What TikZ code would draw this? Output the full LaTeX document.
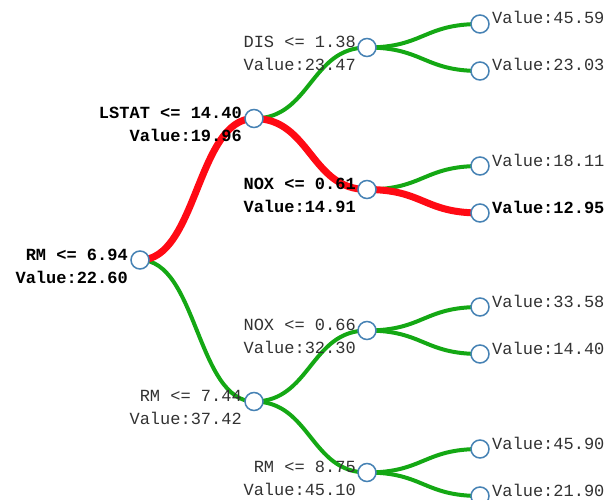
\documentclass[tikz,border=0pt]{standalone}
\usepackage{fontspec}
\setmonofont{Liberation Mono}
\usetikzlibrary{calc,backgrounds}
\definecolor{steel}{RGB}{70,130,180}
\definecolor{edgegreen}{RGB}{20,168,20}
\definecolor{edgered}{RGB}{255,10,20}
\definecolor{txt}{RGB}{50,50,50}
\tikzset{
  tnode/.style={circle, draw=steel, fill=white, line width=1.5pt, minimum size=18pt, inner sep=0pt},
  lbl/.style={font=\ttfamily\fontsize{17}{20}\selectfont, inner sep=0pt, text=txt},
  blbl/.style={font=\ttfamily\bfseries\fontsize{17}{20}\selectfont, inner sep=0pt, text=black},
  gedge/.style={draw=edgegreen, line width=4pt},
  redge/.style={draw=edgered, line width=7pt},
}
\newcommand{\diag}[3]{\draw[#1] let \p1=(#2), \p2=(#3) in (#2) .. controls ({(\x1+\x2)/2},\y1) and ({(\x1+\x2)/2},\y2) .. (#3);}
\begin{document}
\begin{tikzpicture}[x=1pt,y=-1pt]
\useasboundingbox (0,0) rectangle (607,500);
% nodes
\node[tnode] (r) at (140,260) {};
\node[tnode] (a) at (254,118.5) {};
\node[tnode] (b) at (254,401.5) {};
\node[tnode] (aa) at (367,47.5) {};
\node[tnode] (ab) at (367,189.5) {};
\node[tnode] (ba) at (367,330.5) {};
\node[tnode] (bb) at (367,472.5) {};
\node[tnode] (l1) at (480,24) {};
\node[tnode] (l2) at (480,71) {};
\node[tnode] (l3) at (480,166) {};
\node[tnode] (l4) at (480,213) {};
\node[tnode] (l5) at (480,307) {};
\node[tnode] (l6) at (480,354) {};
\node[tnode] (l7) at (480,449) {};
\node[tnode] (l8) at (480,496) {};
% edges
\begin{pgfonlayer}{background}
\diag{gedge}{r.center}{b.center}
\diag{gedge}{a.center}{aa.center}
\diag{gedge}{aa.center}{l1.center}
\diag{gedge}{aa.center}{l2.center}
\diag{gedge}{ab.center}{l3.center}
\diag{gedge}{b.center}{ba.center}
\diag{gedge}{b.center}{bb.center}
\diag{gedge}{ba.center}{l5.center}
\diag{gedge}{ba.center}{l6.center}
\diag{gedge}{bb.center}{l7.center}
\diag{gedge}{bb.center}{l8.center}
\diag{redge}{r.center}{a.center}
\diag{redge}{a.center}{ab.center}
\diag{redge}{ab.center}{l4.center}
\end{pgfonlayer}
% labels
\node[blbl, anchor=base east] (tr1) at ([xshift=-12pt]r.center) {RM <= 6.94};
\node[blbl, anchor=base east] (tr2) at ([xshift=-12pt,yshift=-23pt]r.center) {Value:22.60};
\node[blbl, anchor=base east] (ta1) at ([xshift=-12pt]a.center) {LSTAT <= 14.40};
\node[blbl, anchor=base east] (ta2) at ([xshift=-12pt,yshift=-23pt]a.center) {Value:19.96};
\node[lbl, anchor=base east] (tb1) at ([xshift=-12pt]b.center) {RM <= 7.44};
\node[lbl, anchor=base east] (tb2) at ([xshift=-12pt,yshift=-23pt]b.center) {Value:37.42};
\node[lbl, anchor=base east] (taa1) at ([xshift=-11pt]aa.center) {DIS <= 1.38};
\node[lbl, anchor=base east] (taa2) at ([xshift=-11pt,yshift=-23pt]aa.center) {Value:23.47};
\node[blbl, anchor=base east] (tab1) at ([xshift=-11pt]ab.center) {NOX <= 0.61};
\node[blbl, anchor=base east] (tab2) at ([xshift=-11pt,yshift=-23pt]ab.center) {Value:14.91};
\node[lbl, anchor=base east] (tba1) at ([xshift=-11pt]ba.center) {NOX <= 0.66};
\node[lbl, anchor=base east] (tba2) at ([xshift=-11pt,yshift=-23pt]ba.center) {Value:32.30};
\node[lbl, anchor=base east] (tbb1) at ([xshift=-11pt]bb.center) {RM <= 8.75};
\node[lbl, anchor=base east] (tbb2) at ([xshift=-11pt,yshift=-23pt]bb.center) {Value:45.10};
\node[lbl, anchor=base west] (tl1) at ([xshift=12pt]l1.center) {Value:45.59};
\node[lbl, anchor=base west] (tl2) at ([xshift=12pt]l2.center) {Value:23.03};
\node[lbl, anchor=base west] (tl3) at ([xshift=12pt]l3.center) {Value:18.11};
\node[blbl, anchor=base west] (tl4) at ([xshift=12pt]l4.center) {Value:12.95};
\node[lbl, anchor=base west] (tl5) at ([xshift=12pt]l5.center) {Value:33.58};
\node[lbl, anchor=base west] (tl6) at ([xshift=12pt]l6.center) {Value:14.40};
\node[lbl, anchor=base west] (tl7) at ([xshift=12pt]l7.center) {Value:45.90};
\node[lbl, anchor=base west] (tl8) at ([xshift=12pt]l8.center) {Value:21.90};
\end{tikzpicture}
\end{document}
